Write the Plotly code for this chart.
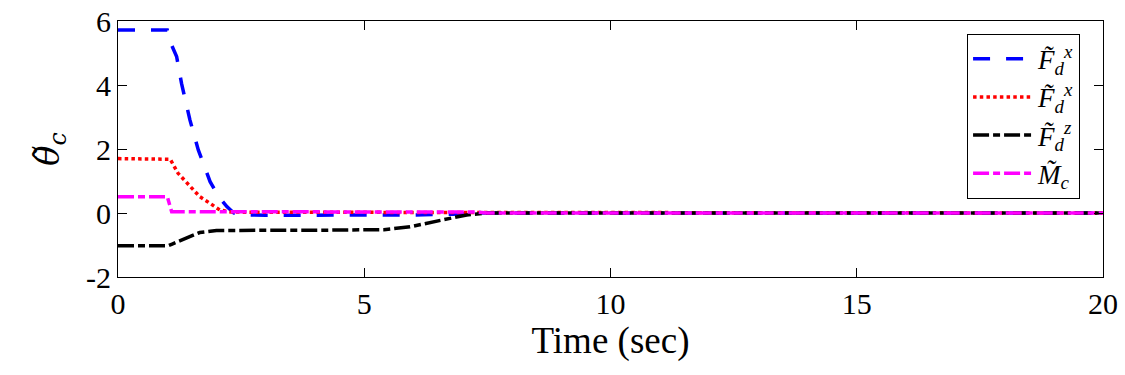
import plotly.graph_objects as go

# Data
t_blue = [0, 1.0, 1.06, 1.19, 1.29, 1.46, 1.63, 1.87, 2.05, 2.21, 2.35, 2.55, 3.0, 4.0, 5.0, 6.0, 6.8, 7.3, 20]
v_blue = [5.72, 5.72, 5.35, 4.89, 4.05, 2.91, 1.97, 0.98, 0.5, 0.2, 0.0, -0.06, -0.07, -0.07, -0.07, -0.06, -0.04, 0.0, 0.0]

t_red = [0, 1.02, 1.06, 1.22, 1.46, 1.66, 1.87, 2.07, 2.3, 3.0, 5.0, 7.0, 7.5, 20]
v_red = [1.70, 1.70, 1.68, 1.24, 0.82, 0.51, 0.30, 0.09, 0.03, 0.02, 0.02, 0.02, 0.0, 0.0]

t_black = [0, 1.02, 1.1, 1.29, 1.66, 2.0, 2.34, 3.0, 4.0, 5.0, 5.4, 5.93, 6.4, 6.74, 7.08, 7.49, 20]
v_black = [-1.02, -1.02, -0.97, -0.84, -0.61, -0.55, -0.54, -0.54, -0.54, -0.53, -0.52, -0.43, -0.27, -0.17, -0.06, 0.0, 0.0]

t_mag = [0, 1.0, 1.09, 2.0, 4.0, 6.0, 7.3, 7.5, 20]
v_mag = [0.51, 0.51, 0.04, 0.04, 0.04, 0.04, 0.03, 0.0, 0.0]

names = ["<i>F̃</i><sub><i>d</i></sub><sup><i>x</i></sup>",
         "<i>F̃</i><sub><i>d</i></sub><sup><i>x</i></sup>",
         "<i>F̃</i><sub><i>d</i></sub><sup><i>z</i></sup>",
         "<i>M̃</i><sub><i>c</i></sub>"]

x_ticks = [0, 5, 10, 15, 20]
y_ticks = [-2, 0, 2, 4, 6]

FONT = "Liberation Serif"
MATH = "DejaVu Serif"

fig = go.Figure()
fig.add_trace(go.Scatter(x=t_blue, y=v_blue, mode="lines", name=names[0],
                         line=dict(color="#0000ff", width=3.5, dash="17px,16px")))
fig.add_trace(go.Scatter(x=t_red, y=v_red, mode="lines", name=names[1],
                         line=dict(color="#ff0000", width=3.5, dash="3.5px,3.2px")))
fig.add_trace(go.Scatter(x=t_black, y=v_black, mode="lines", name=names[2],
                         line=dict(color="#000000", width=3.5, dash="16px,4px,7px,4px")))
fig.add_trace(go.Scatter(x=t_mag, y=v_mag, mode="lines", name=names[3],
                         line=dict(color="#ff00ff", width=3.5, dash="16px,4px,7px,4px")))

fig.update_layout(
    template="none",
    width=1125, height=375,
    margin=dict(l=118, r=22, t=21, b=98),
    plot_bgcolor="white", paper_bgcolor="white",
    font=dict(family=FONT, size=24, color="black"),
    showlegend=True,
)
fig.update_xaxes(range=[0, 20], tickmode="array", tickvals=x_ticks, ticktext=[str(v) for v in x_ticks],
                 showgrid=False, zeroline=False, ticklabeloverflow="allow",
                 showline=True, linecolor="black", linewidth=1, mirror="ticks",
                 ticks="inside", ticklen=9, tickcolor="black",
                 tickfont=dict(family=FONT, size=30, color="black"),
                 title=dict(text="Time (sec)", font=dict(family=FONT, size=37), standoff=4))
fig.update_yaxes(range=[-2, 6], tickmode="array", tickvals=y_ticks, ticktext=[str(v) for v in y_ticks],
                 showgrid=False, zeroline=False, ticklabeloverflow="allow",
                 showline=True, linecolor="black", linewidth=1, mirror="ticks",
                 ticks="inside", ticklen=9, tickcolor="black",
                 tickfont=dict(family=FONT, size=30, color="black"),
                 title=dict(text="<i>θ̃</i><sub><i>c</i></sub>", font=dict(family=MATH, size=34), standoff=16))
fig.update_layout(legend=dict(x=0.862, y=0.95, xanchor="left", yanchor="top",
                              bgcolor="white", bordercolor="black", borderwidth=1,
                              font=dict(family=FONT, size=27, color="black"),
                              itemwidth=60, tracegroupgap=0))

fig.write_html("out.html", config={"displayModeBar": False},
               post_script="document.body.style.margin='0';")
